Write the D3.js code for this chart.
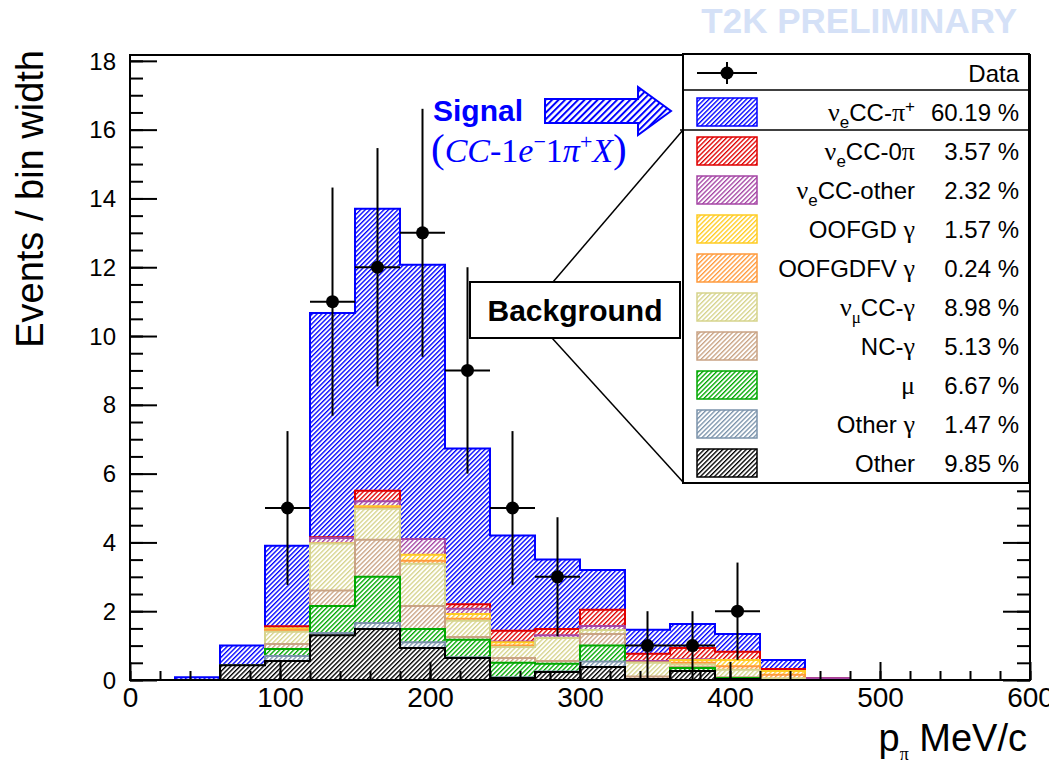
<!DOCTYPE html>
<html><head><meta charset="utf-8">
<script src="https://cdn.jsdelivr.net/npm/d3@7"></script>
<style>
body{margin:0;background:#fff}
svg{display:block}
text{font-family:"Liberation Sans",Arial,Helvetica,sans-serif}
</style>
</head><body>
<svg id="c" width="1049" height="764"></svg>
<script>
// ---------------- data ----------------
const binLow = [30,60,90,120,150,180,210,240,270,300,330,360,390,420,450];
const binWidth = 30;
const dataCounts = [0,0,5,11,12,13,9,5,3,0,1,1,2,0,0];

// stacked components (bottom -> top), events / bin width
const other        = [0,0.43,0.55,1.30,1.48,0.93,0.64,0.06,0.23,0.38,0.03,0.26,0.03,0,0];
const otherGamma   = [0,0,0.15,0.07,0.18,0.17,0.02,0.02,0.02,0.16,0,0,0,0,0];
const muon         = [0,0,0.20,0.78,1.34,0.38,0.51,0.42,0.22,0.46,0,0.09,0.03,0,0];
const ncGamma      = [0,0,0.15,0.45,1.08,0.67,0.08,0.14,0.08,0.34,0.07,0.03,0.02,0,0];
const numuCCGamma  = [0,0,0.35,1.37,0.90,1.23,0.47,0.32,0.67,0.11,0.40,0.07,0.22,0.05,0];
const oofgdfvGamma = [0,0,0.05,0,0.03,0.09,0.06,0.04,0,0,0,0.05,0.10,0.10,0];
const oofgdGamma   = [0,0,0.05,0,0.04,0.17,0.14,0.10,0,0,0,0.08,0.18,0.11,0];
const nueCCOther   = [0,0,0,0.16,0.15,0.46,0.15,0.02,0.08,0.12,0.05,0.02,0,0,0.04];
const nueCC0pi     = [0,0,0.06,0.02,0.30,0,0.13,0.31,0.18,0.47,0.21,0.33,0.24,0.06,0];
const nueCCpiPlus  = [0.08,0.57,2.34,6.52,8.20,7.97,4.53,2.77,2.02,1.16,0.70,0.70,0.52,0.26,0];

const componentKeys = ["other","otherGamma","muon","ncGamma","numuCCGamma","oofgdfvGamma","oofgdGamma","nueCCOther","nueCC0pi","nueCCpiPlus"];
const componentValues = [other,otherGamma,muon,ncGamma,numuCCGamma,oofgdfvGamma,oofgdGamma,nueCCOther,nueCC0pi,nueCCpiPlus];
const componentColors = ["#000000","#7b93ab","#00a800","#c9a384","#d6d48c","#ff9a3c","#ffcc22","#a545a5","#e00000","#0000ff"];

// legend (top -> bottom)
const legendKeys = ["nueCCpiPlus","nueCC0pi","nueCCOther","oofgdGamma","oofgdfvGamma","numuCCGamma","ncGamma","muon","otherGamma","other"];
const legendLabels = [
  [["ν","g"],["e","sub"],["CC-",""],["π","g"],["+","sup"]],
  [["ν","g"],["e","sub"],["CC-0",""],["π","g"]],
  [["ν","g"],["e","sub"],["CC-other",""]],
  [["OOFGD ",""],["γ","g"]],
  [["OOFGDFV ",""],["γ","g"]],
  [["ν","g"],["μ","subg"],["CC-",""],["γ","g"]],
  [["NC-",""],["γ","g"]],
  [["μ","g"]],
  [["Other ",""],["γ","g"]],
  [["Other",""]]
];
const legendPercents = ["60.19 %","3.57 %","2.32 %","1.57 %","0.24 %","8.98 %","5.13 %","6.67 %","1.47 %","9.85 %"];

const xTicks = [0,100,200,300,400,500,600];
const xMinorTicks = d3.range(0,601,20);
const yTicks = [0,2,4,6,8,10,12,14,16,18];
const yMinorTicks = d3.range(0,18.01,0.5);

// ---------------- drawing ----------------
const SERIF = "'Liberation Serif','Times New Roman',serif";
const svg = d3.select("#c");
const x = d3.scaleLinear().domain([0,600]).range([130,1030]);
const y = d3.scaleLinear().domain([0,18.17]).range([680,55]);
const defs = svg.append("defs");

function hatch(id,color,s,w){
  const p = defs.append("pattern").attr("id",id).attr("patternUnits","userSpaceOnUse")
    .attr("width",s).attr("height",s).attr("patternTransform","rotate(45)");
  p.append("rect").attr("width",s).attr("height",s).attr("fill","#fff");
  p.append("line").attr("x1",w/2).attr("y1",-1).attr("x2",w/2).attr("y2",s+1)
    .attr("stroke",color).attr("stroke-width",w);
}
componentKeys.forEach((k,i)=>hatch("h_"+k,componentColors[i],3.3,1.35));
hatch("h_arrow","#0000ff",4.6,2.0);

// stack
const rows = binLow.map((lo,i)=>{
  const r = {lo:lo};
  componentKeys.forEach((k,j)=>r[k]=componentValues[j][i]);
  return r;
});
const series = d3.stack().keys(componentKeys)(rows);

const line = d3.line().x(d=>x(d[0])).y(d=>y(d[1]));
function histPoints(s){
  const pts = [[binLow[0],0]];
  s.forEach((d,i)=>{ pts.push([binLow[i],d[1]]); pts.push([binLow[i]+binWidth,d[1]]); });
  pts.push([binLow[binLow.length-1]+binWidth,0]);
  return pts;
}
const gh = svg.append("g");
// cumulative histograms drawn from top of stack downwards (THStack style)
series.slice().reverse().forEach(s=>{
  const idx = componentKeys.indexOf(s.key);
  gh.append("path").attr("d",line(histPoints(s))+"Z")
    .attr("fill","url(#h_"+s.key+")")
    .attr("stroke",componentColors[idx]).attr("stroke-width",2)
    .attr("stroke-linejoin","miter");
});

// data points with errors
const gd = svg.append("g");
binLow.forEach((lo,i)=>{
  const n = dataCounts[i];
  if(n<=0) return;
  const e = Math.sqrt(n), cx = lo+binWidth/2;
  gd.append("line").attr("x1",x(cx)).attr("x2",x(cx)).attr("y1",y(n+e)).attr("y2",y(Math.max(0,n-e)))
    .attr("stroke","#000").attr("stroke-width",2);
  gd.append("line").attr("x1",x(lo)).attr("x2",x(lo+binWidth)).attr("y1",y(n)).attr("y2",y(n))
    .attr("stroke","#000").attr("stroke-width",2);
  gd.append("circle").attr("cx",x(cx)).attr("cy",y(n)).attr("r",6.5).attr("fill","#000");
});

// axes
function styleAxis(g){ g.select(".domain").remove(); g.selectAll("line").attr("stroke","#000").attr("stroke-width",2); }
const gxMinor = svg.append("g").attr("transform","translate(0,680)")
  .call(d3.axisBottom(x).tickValues(xMinorTicks).tickSize(-9).tickFormat(""));
styleAxis(gxMinor);
const gx = svg.append("g").attr("transform","translate(0,680)")
  .call(d3.axisBottom(x).tickValues(xTicks).tickSize(-18).tickPadding(8).tickFormat(d3.format("d")));
styleAxis(gx);
gx.selectAll("text").attr("font-size",28).attr("fill","#000").attr("dy",null).attr("y",27)
  .style("font-family","'Liberation Sans',Arial,sans-serif");

const gyMinor = svg.append("g").attr("transform","translate(130,0)")
  .call(d3.axisLeft(y).tickValues(yMinorTicks).tickSize(-13).tickFormat(""));
styleAxis(gyMinor);
const gy = svg.append("g").attr("transform","translate(130,0)")
  .call(d3.axisLeft(y).tickValues(yTicks).tickSize(-27).tickPadding(14).tickFormat(d3.format("d")));
styleAxis(gy);
gy.selectAll("text").attr("font-size",24).attr("fill","#000").attr("dy","0.34em")
  .style("font-family","'Liberation Sans',Arial,sans-serif");
const gyMinorR = svg.append("g").attr("transform","translate(1030,0)")
  .call(d3.axisRight(y).tickValues(yMinorTicks).tickSize(-13).tickFormat(""));
styleAxis(gyMinorR);
const gyR = svg.append("g").attr("transform","translate(1030,0)")
  .call(d3.axisRight(y).tickValues(yTicks).tickSize(-27).tickFormat(""));
styleAxis(gyR);

// frame
svg.append("rect").attr("x",130).attr("y",55).attr("width",900).attr("height",625)
  .attr("fill","none").attr("stroke","#000").attr("stroke-width",2);

// axis titles
svg.append("text").attr("transform","translate(43,50) rotate(-90)").attr("text-anchor","end")
  .attr("font-size",38).attr("fill","#000").text("Events / bin width");
const xt = svg.append("text").attr("x",1027).attr("y",751).attr("text-anchor","end")
  .attr("font-size",38).attr("fill","#000");
xt.append("tspan").text("p");
xt.append("tspan").attr("font-size",18).attr("dy",9).style("font-family",SERIF).text("π");
xt.append("tspan").attr("dy",-9).text(" MeV/c");

// title
svg.append("text").attr("x",1017).attr("y",33).attr("text-anchor","end")
  .attr("font-size",35).attr("font-weight","bold").attr("fill","#d5e1f7").text("T2K PRELIMINARY");

// Background callout
svg.append("line").attr("x1",553).attr("y1",282).attr("x2",683).attr("y2",130).attr("stroke","#000").attr("stroke-width",1.5);
svg.append("line").attr("x1",552).attr("y1",338).attr("x2",683).attr("y2",482).attr("stroke","#000").attr("stroke-width",1.5);
svg.append("rect").attr("x",470).attr("y",282).attr("width",210).attr("height",56)
  .attr("fill","#fff").attr("stroke","#000").attr("stroke-width",2);
svg.append("text").attr("x",575).attr("y",321).attr("text-anchor","middle").attr("font-size",30)
  .attr("font-weight","bold").attr("fill","#000").text("Background");

// legend
const L = svg.append("g");
L.append("rect").attr("x",683).attr("y",54).attr("width",346).attr("height",429)
  .attr("fill","#fff").attr("stroke","#000").attr("stroke-width",2);
L.append("line").attr("x1",683).attr("x2",1029).attr("y1",90).attr("y2",90).attr("stroke","#000").attr("stroke-width",1.5);
L.append("line").attr("x1",680).attr("x2",1029).attr("y1",130).attr("y2",130).attr("stroke","#000").attr("stroke-width",1.5);
// data entry
L.append("line").attr("x1",697).attr("x2",757).attr("y1",73).attr("y2",73).attr("stroke","#000").attr("stroke-width",2);
L.append("line").attr("x1",727).attr("x2",727).attr("y1",62).attr("y2",84).attr("stroke","#000").attr("stroke-width",2);
L.append("circle").attr("cx",727).attr("cy",73).attr("r",6.5).attr("fill","#000");
L.append("text").attr("x",1019).attr("y",81.5).attr("text-anchor","end").attr("font-size",24).text("Data");

legendKeys.forEach((k,i)=>{
  const cy = 112 + i*39.0;
  const ci = componentKeys.indexOf(k);
  L.append("rect").attr("x",697).attr("y",cy-14).attr("width",60).attr("height",28)
    .attr("fill","url(#h_"+k+")").attr("stroke",componentColors[ci]).attr("stroke-width",1.5);
  const t = L.append("text").attr("x",915).attr("y",cy+8.5).attr("text-anchor","end").attr("font-size",24).attr("fill","#000");
  let shift = 0;
  legendLabels[i].forEach(([s,type])=>{
    const ts = t.append("tspan").text(s);
    let target = 0;
    if(type==="sub"){ ts.attr("font-size",17); target = 7; }
    else if(type==="subg"){ ts.attr("font-size",17).style("font-family",SERIF); target = 7; }
    else if(type==="sup"){ ts.attr("font-size",17); target = -9; }
    else if(type==="g"){ ts.attr("font-size",26).style("font-family",SERIF); }
    ts.attr("dy",target-shift); shift = target;
  });
  L.append("text").attr("x",1019).attr("y",cy+8.5).attr("text-anchor","end").attr("font-size",24).attr("fill","#000")
    .text(legendPercents[i]);
});

// Signal annotation
svg.append("text").attr("x",433).attr("y",121).attr("font-size",30).attr("font-weight","bold")
  .attr("fill","#0000ff").text("Signal");
svg.append("polygon").attr("points","545,99 638,99 638,87 671,111 638,135 638,123 545,123")
  .attr("fill","url(#h_arrow)").attr("stroke","#0000ff").attr("stroke-width",2);
const f = svg.append("text").attr("x",431).attr("y",162).attr("fill","#0000ff")
  .style("font-family",SERIF).attr("font-size",34);
f.append("tspan").attr("font-size",41).text("(");
f.append("tspan").attr("font-style","italic").text("CC");
f.append("tspan").text("-1");
f.append("tspan").attr("font-style","italic").text("e");
f.append("tspan").attr("font-size",22).attr("dy",-13).text("−");
f.append("tspan").attr("dy",13).text("1");
f.append("tspan").attr("font-style","italic").text("π");
f.append("tspan").attr("font-size",22).attr("dy",-13).text("+");
f.append("tspan").attr("font-style","italic").attr("dy",13).text("X");
f.append("tspan").attr("font-size",41).text(")");
</script>
</body></html>
